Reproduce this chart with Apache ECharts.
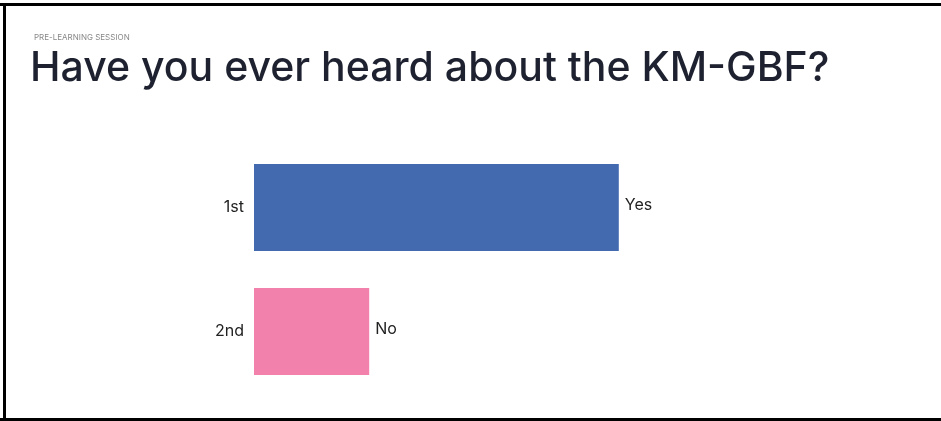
<!DOCTYPE html>
<html>
<head>
<meta charset="utf-8">
<style>
html,body{margin:0;padding:0;background:#fff;}
#chart{width:941px;height:421px;}
</style>
<script src="https://cdn.jsdelivr.net/npm/echarts@6/dist/echarts.min.js"></script>
</head>
<body>
<div id="chart"></div>
<script>
const kicker = "PRE-LEARNING SESSION";
const titleText = "Have you ever heard about the KM-GBF?";
const categories = ["1st", "2nd"];
const answers = ["Yes", "No"];
const values = [76, 24];
const colors = ["#436aaf", "#f282ab"];

const chart = echarts.init(document.getElementById('chart'));
chart.setOption({
  animation: false,
  backgroundColor: '#fff',
  title: [
    { text: kicker, left: 29, top: 29, textStyle: { fontSize: 8, fontWeight: 'normal', color: '#888', fontFamily: 'Inter' } },
    { text: titleText, left: 25, top: 43, textStyle: { fontSize: 41, fontWeight: 500, color: '#1e2230', fontFamily: 'Inter' } }
  ],
  graphic: [
    { type: 'line', shape: { x1: 0, y1: 4.5, x2: 941, y2: 4.5 }, style: { stroke: '#000', lineWidth: 3 }, silent: true },
    { type: 'line', shape: { x1: 4.5, y1: 3, x2: 4.5, y2: 421 }, style: { stroke: '#000', lineWidth: 3 }, silent: true },
    { type: 'line', shape: { x1: 0, y1: 419.5, x2: 941, y2: 419.5 }, style: { stroke: '#000', lineWidth: 3 }, silent: true }
  ],
  grid: { left: 254, width: 480, top: 145.5, height: 248 },
  xAxis: { type: 'value', min: 0, max: 100, show: false },
  yAxis: {
    type: 'category', data: categories, inverse: true,
    axisLine: { show: false }, axisTick: { show: false },
    axisLabel: { margin: 10, fontSize: 16, color: '#222', fontFamily: 'Inter' }
  },
  series: [{
    type: 'bar',
    barCategoryGap: '30%',
    data: values.map((v, i) => ({ value: v, itemStyle: { color: colors[i] } })),
    label: {
      show: true, position: 'right', distance: 6, offset: [0, -2],
      formatter: p => answers[p.dataIndex],
      fontSize: 16, color: '#222', fontFamily: 'Inter'
    }
  }]
});
</script>
</body>
</html>
